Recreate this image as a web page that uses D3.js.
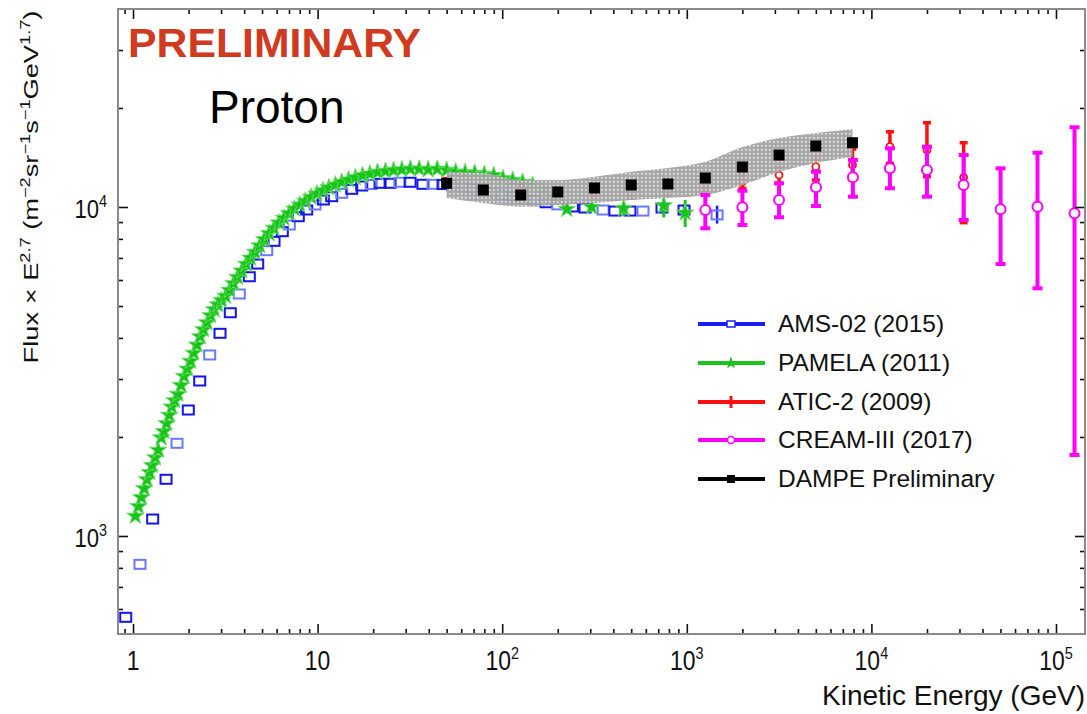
<!DOCTYPE html>
<html>
<head>
<meta charset="utf-8">
<script src="https://cdn.jsdelivr.net/npm/d3@7"></script>
<style>
  html, body { margin: 0; padding: 0; background: #fff; }
  svg { display: block; font-family: "Liberation Sans", Arial, sans-serif; }
</style>
</head>
<body>
<div id="container"></div>
<script>
var amsE = [0.913, 1.091, 1.278, 1.51, 1.731, 1.993, 2.298, 2.603, 2.96, 3.366, 3.765, 4.266, 4.737, 5.30, 5.806,
    6.44, 7.03, 7.86, 8.73, 9.68, 10.74, 11.92, 13.51, 15.30, 17.34, 19.5, 21.8, 24.7, 27.9, 31.7, 37.2, 42.2, 47.8,
    54, 61, 69, 78, 88, 100, 114, 130, 150, 173, 200, 240, 281, 352, 408, 492, 579, 734, 966, 1459],
  amsFlux = [566, 820, 1126, 1487, 1913, 2415, 2959, 3550, 4131, 4771, 5440, 6138, 6709, 7366, 7865,
    8413, 8816, 9343, 9793, 10141, 10503, 10748, 11006, 11318, 11583, 11706, 11805, 11805, 11890, 11890, 11722, 11722, 11700,
    11600, 11500, 11350, 11200, 11050, 10900, 10750, 10600, 10450, 10300, 10150, 10000, 9930, 9790, 9720, 9720, 9720, 9930, 9790, 9460],
  amsErrE = [734, 966, 1459],
  amsErrLo = [9700, 9400, 8900],
  amsErrHi = [10150, 10200, 10100];

var pamelaE = [1.03, 1.07, 1.11, 1.15, 1.19, 1.23, 1.27, 1.32, 1.37, 1.42, 1.47, 1.52, 1.57, 1.62, 1.68, 1.75, 1.82,
    1.89, 1.97, 2.05, 2.13, 2.22, 2.31, 2.41, 2.52, 2.63, 2.75, 2.88, 3.02, 3.17, 3.33, 3.50, 3.68, 3.88, 4.10, 4.33,
    4.58, 4.85, 5.14, 5.46, 5.80, 6.17, 6.57, 7.01, 7.49, 8.01, 8.58, 9.21, 9.90, 10.7, 11.5, 12.5, 13.5, 14.7, 16.0,
    17.5, 19.2, 21.1, 23.3, 25.8, 28.6, 31.8, 35.5, 39.7, 44.5, 50, 56, 63, 71, 80, 90, 101, 114, 129, 146, 166, 190,
    224, 305, 455, 750, 980],
  pamelaFlux = [1150, 1230, 1310, 1395, 1485, 1560, 1640, 1730, 1825, 1990, 2080, 2200, 2330, 2470, 2580, 2700, 2870,
    3060, 3220, 3400, 3600, 3810, 4040, 4240, 4450, 4680, 4880, 5050, 5200, 5360, 5590, 5860, 6120, 6400, 6710, 7000,
    7290, 7630, 7980, 8310, 8620, 8950, 9250, 9560, 9870, 10150, 10430, 10720, 10970, 11220, 11450, 11680, 11900, 12100, 12290,
    12470, 12620, 12760, 12860, 12940, 13000, 13060, 13060, 13000, 13050, 12950, 12800, 12750, 12680, 12580, 12480, 12220, 12080, 11900, 11650, 11300, 10800,
    9850, 10000, 9900, 10100, 9600],
  pamelaErrE = [224, 305, 455, 750, 980],
  pamelaErrLo = [9600, 9700, 9400, 9300, 8700],
  pamelaErrHi = [10050, 10300, 10350, 11000, 10500];

var aticE = [50, 79, 126, 200, 316, 500, 790, 1260, 2000, 3160, 5000, 7900, 12600, 20000, 31600],
  aticFlux = [11910, 11424, 11265, 11108, 11108, 11030, 11265, 11666, 11938, 12511, 13265, 13423, 15250, 14900, 12310],
  aticLo = [11600, 11100, 10950, 10800, 10750, 10650, 10850, 11200, 11400, 11800, 12080, 12250, 13580, 12362, 8963],
  aticHi = [12200, 11750, 11600, 11450, 11450, 11400, 11700, 12150, 12500, 13200, 14190, 15010, 16940, 18040, 15680];

var creamE = [1260, 2000, 3160, 5010, 7940, 12600, 20000, 31600, 50100, 79400, 126000],
  creamFlux = [9793, 9979, 10503, 11480, 12310, 13110, 12956, 11666, 9840, 10021, 9570],
  creamLo = [8616, 8816, 9305, 10070, 10748, 11399, 10748, 9130, 6709, 5660, 1763],
  creamHi = [10877, 11208, 11805, 12803, 13897, 15080, 15250, 14390, 13110, 14620, 17470];

var dampeE = [50, 79, 126, 200, 316, 500, 790, 1260, 2000, 3160, 5000, 7900],
  dampeFlux = [11805, 11265, 10877, 11108, 11424, 11666, 11748, 12246, 13230, 14387, 15323, 15682],
  dampeSysLo = [10652, 10285, 10021, 10141, 10285, 10503, 10652, 10877, 11666, 12776, 13605, 14190],
  dampeSysHi = [12803, 12686, 12080, 12080, 12362, 12803, 13139, 13732, 15219, 16206, 16785, 17262];

var xMajor = [1, 10, 100, 1e3, 1e4, 1e5],
  xMajorBase = ['1', '10', '10', '10', '10', '10'],
  xMajorExp = ['', '', '2', '3', '4', '5'],
  yMajor = [1e3, 1e4],
  yMajorExp = ['3', '4'];

var legendNames = ['AMS-02 (2015)', 'PAMELA (2011)', 'ATIC-2 (2009)', 'CREAM-III (2017)', 'DAMPE Preliminary'],
  legendColors = ['#1e1ef0', '#1cc41c', '#ff1010', '#ff00ff', '#000000'];

var width = 1087, height = 714,
  pLeft = 118, pRight = 1085, pTop = 9, pBottom = 634,
  svg, x, y;

function minorTicks(lo, hi) {
  var out = [], p, k;
  for (p = Math.floor(Math.log10(lo)); p <= Math.ceil(Math.log10(hi)); p += 1) {
    for (k = 2; k <= 9; k += 1) {
      if (k * Math.pow(10, p) > lo && k * Math.pow(10, p) < hi) out.push(k * Math.pow(10, p));
    }
  }
  return out;
}

function zip(a, b) {
  return a.map(function (v, i) { return [v, b[i]]; });
}

svg = d3.select('#container').append('svg')
  .attr('width', width)
  .attr('height', height);

x = d3.scaleLog().domain([0.8292, 143600]).range([pLeft, pRight]);
y = d3.scaleLog().domain([503.6, 39980]).range([pBottom, pTop]);

// band pattern
var pat = svg.append('defs').append('pattern')
  .attr('id', 'dots')
  .attr('width', 4)
  .attr('height', 4)
  .attr('patternUnits', 'userSpaceOnUse');
pat.append('rect').attr('width', 4).attr('height', 4).attr('fill', '#a4a4a4');
pat.append('rect').attr('x', 1).attr('y', 1).attr('width', 1.6).attr('height', 1.6).attr('fill', '#ececec');

var plot = svg.append('g');

function errorBars(g, es, lo, hi, color, w, cap) {
  var bars = g.append('g').selectAll('g').data(es).enter().append('g')
    .attr('stroke', color);
  bars.append('line')
    .attr('x1', function (d) { return x(d); })
    .attr('x2', function (d) { return x(d); })
    .attr('y1', function (d, i) { return y(lo[i]); })
    .attr('y2', function (d, i) { return y(hi[i]); })
    .attr('stroke-width', w);
  if (cap) {
    bars.append('line')
      .attr('x1', function (d) { return x(d) - cap; })
      .attr('x2', function (d) { return x(d) + cap; })
      .attr('y1', function (d, i) { return y(lo[i]); })
      .attr('y2', function (d, i) { return y(lo[i]); })
      .attr('stroke-width', w);
    bars.append('line')
      .attr('x1', function (d) { return x(d) - cap; })
      .attr('x2', function (d) { return x(d) + cap; })
      .attr('y1', function (d, i) { return y(hi[i]); })
      .attr('y2', function (d, i) { return y(hi[i]); })
      .attr('stroke-width', w);
  }
}

// AMS-02
errorBars(plot, amsErrE, amsErrLo, amsErrHi, '#1e1ef0', 2.5, 0);
plot.append('g').selectAll('rect')
  .data(zip(amsE, amsFlux))
  .enter()
  .append('rect')
  .attr('x', function (d) { return x(d[0]) - 5.5; })
  .attr('y', function (d) { return y(d[1]) - 4.5; })
  .attr('width', 11)
  .attr('height', 9)
  .attr('fill', 'none')
  .attr('stroke', function (d, i) { return i % 3 === 1 ? '#6a78ff' : '#1414f0'; })
  .attr('stroke-width', 2);

// PAMELA
errorBars(plot, pamelaErrE, pamelaErrLo, pamelaErrHi, '#1cc41c', 3, 0);
var star = d3.symbol().type(d3.symbolStar).size(95);
plot.append('g').selectAll('path')
  .data(zip(pamelaE, pamelaFlux))
  .enter()
  .append('path')
  .attr('d', star)
  .attr('transform', function (d) { return 'translate(' + x(d[0]) + ',' + y(d[1]) + ')'; })
  .attr('fill', '#18c418')
  .attr('stroke', '#6fe06f')
  .attr('stroke-width', 0.8);

// ATIC-2
errorBars(plot, aticE, aticLo, aticHi, '#ff1010', 3.5, 4);
plot.append('g').selectAll('circle')
  .data(zip(aticE, aticFlux))
  .enter()
  .append('circle')
  .attr('cx', function (d) { return x(d[0]); })
  .attr('cy', function (d) { return y(d[1]); })
  .attr('r', 3.5)
  .attr('fill', '#fff')
  .attr('stroke', '#ff1010')
  .attr('stroke-width', 1.8);

// DAMPE systematic band
var band = d3.area()
  .curve(d3.curveMonotoneX)
  .x(function (d) { return x(d[0]); })
  .y0(function (d) { return y(d[1]); })
  .y1(function (d) { return y(d[2]); });
plot.append('path')
  .datum(dampeE.map(function (e, i) { return [e, dampeSysLo[i], dampeSysHi[i]]; }))
  .attr('d', band)
  .attr('fill', 'url(#dots)')
  .attr('opacity', 0.95);

// CREAM-III
errorBars(plot, creamE, creamLo, creamHi, '#ff00ff', 4, 5);
plot.append('g').selectAll('circle')
  .data(zip(creamE, creamFlux))
  .enter()
  .append('circle')
  .attr('cx', function (d) { return x(d[0]); })
  .attr('cy', function (d) { return y(d[1]); })
  .attr('r', 5)
  .attr('fill', '#fff')
  .attr('stroke', '#ff00ff')
  .attr('stroke-width', 2);

// DAMPE points
plot.append('g').selectAll('rect')
  .data(zip(dampeE, dampeFlux))
  .enter()
  .append('rect')
  .attr('x', function (d) { return x(d[0]) - 5.5; })
  .attr('y', function (d) { return y(d[1]) - 5.5; })
  .attr('width', 11)
  .attr('height', 11)
  .attr('fill', '#000');

// frame + ticks on all four sides, pointing inward
function tickAxis(axisFn, scale, vals, size, tr) {
  var g = svg.append('g')
    .attr('transform', tr)
    .call(axisFn(scale).tickValues(vals).tickSize(-size).tickFormat(''));
  g.select('.domain').remove();
  g.selectAll('.tick line').attr('stroke', '#111').attr('stroke-width', 1.6);
}
var xMinor = minorTicks(0.83, 143000), yMinor = minorTicks(504, 39900);
tickAxis(d3.axisBottom, x, xMajor, 10, 'translate(0,' + pBottom + ')');
tickAxis(d3.axisBottom, x, xMinor, 5, 'translate(0,' + pBottom + ')');
tickAxis(d3.axisTop, x, xMajor, 10, 'translate(0,' + pTop + ')');
tickAxis(d3.axisTop, x, xMinor, 5, 'translate(0,' + pTop + ')');
tickAxis(d3.axisLeft, y, yMajor, 10, 'translate(' + pLeft + ',0)');
tickAxis(d3.axisLeft, y, yMinor, 5, 'translate(' + pLeft + ',0)');
tickAxis(d3.axisRight, y, yMajor, 10, 'translate(' + pRight + ',0)');
tickAxis(d3.axisRight, y, yMinor, 5, 'translate(' + pRight + ',0)');

svg.append('rect')
  .attr('x', pLeft)
  .attr('y', pTop)
  .attr('width', pRight - pLeft)
  .attr('height', pBottom - pTop)
  .attr('fill', 'none')
  .attr('stroke', '#8a8a8a')
  .attr('stroke-width', 2);

// tick labels
var xl = svg.append('g').selectAll('text')
  .data(xMajor)
  .enter()
  .append('text')
  .attr('text-anchor', 'middle')
  .attr('transform', function (d) { return 'translate(' + x(d) + ',670) scale(0.85,1)'; })
  .attr('font-size', 27)
  .attr('fill', '#111');
xl.append('tspan').text(function (d, i) { return xMajorBase[i]; });
xl.append('tspan').attr('dy', -11).attr('font-size', 17).text(function (d, i) { return xMajorExp[i]; });

var yl = svg.append('g').selectAll('text')
  .data(yMajor)
  .enter()
  .append('text')
  .attr('text-anchor', 'end')
  .attr('transform', function (d) { return 'translate(107,' + (y(d) + 11) + ') scale(0.85,1)'; })
  .attr('font-size', 26)
  .attr('fill', '#111');
yl.append('tspan').text('10');
yl.append('tspan').attr('dy', -11).attr('font-size', 17).text(function (d, i) { return yMajorExp[i]; });

// axis titles
svg.append('text')
  .attr('x', 1085)
  .attr('y', 705)
  .attr('text-anchor', 'end')
  .attr('font-size', 28)
  .attr('fill', '#111')
  .text('Kinetic Energy (GeV)');

var yt = svg.append('text')
  .attr('text-anchor', 'middle')
  .attr('font-size', 21)
  .attr('fill', '#111');
yt.append('tspan').text('Flux \u00d7 E');
yt.append('tspan').attr('dy', -8).attr('font-size', 14).text('2.7');
yt.append('tspan').attr('dy', 8).text(' (m');
yt.append('tspan').attr('dy', -8).attr('font-size', 14).text('\u22122');
yt.append('tspan').attr('dy', 8).text('sr');
yt.append('tspan').attr('dy', -8).attr('font-size', 14).text('\u22121');
yt.append('tspan').attr('dy', 8).text('s');
yt.append('tspan').attr('dy', -8).attr('font-size', 14).text('\u22121');
yt.append('tspan').attr('dy', 8).text('GeV');
yt.append('tspan').attr('dy', -8).attr('font-size', 14).text('1.7');
yt.append('tspan').attr('dy', 8).text(')');
var ytLen = yt.node().getComputedTextLength();
yt.attr('transform', 'translate(38,187) rotate(-90) scale(' + (353 / ytLen) + ',1)');

// annotations
svg.append('text')
  .attr('x', 128)
  .attr('y', 57)
  .attr('font-size', 40)
  .attr('font-weight', 'bold')
  .attr('fill', '#cf3a20')
  .attr('textLength', 293)
  .attr('lengthAdjust', 'spacingAndGlyphs')
  .text('PRELIMINARY');

svg.append('text')
  .attr('x', 209)
  .attr('y', 123)
  .attr('font-size', 46)
  .attr('fill', '#000')
  .text('Proton');

// legend
var rowY = [324, 363, 402, 440, 479];
var leg = svg.append('g').selectAll('g')
  .data(legendNames)
  .enter()
  .append('g')
  .attr('transform', function (d, i) { return 'translate(0,' + rowY[i] + ')'; });
leg.append('line')
  .attr('x1', 698)
  .attr('x2', 765)
  .attr('stroke', function (d, i) { return legendColors[i]; })
  .attr('stroke-width', 4);
leg.append('text')
  .attr('x', 778)
  .attr('y', 8)
  .attr('font-size', 24.5)
  .attr('fill', '#111')
  .text(function (d) { return d; });
leg.filter(function (d, i) { return i === 0; }).append('rect')
  .attr('x', 727).attr('y', -3).attr('width', 8).attr('height', 6)
  .attr('fill', '#fff').attr('stroke', legendColors[0]).attr('stroke-width', 1.5);
leg.filter(function (d, i) { return i === 1; }).append('path')
  .attr('d', d3.symbol().type(d3.symbolStar).size(50))
  .attr('transform', 'translate(731,0)')
  .attr('fill', legendColors[1]);
leg.filter(function (d, i) { return i === 2; }).append('line')
  .attr('x1', 731).attr('x2', 731).attr('y1', -6).attr('y2', 6)
  .attr('stroke', legendColors[2]).attr('stroke-width', 3);
leg.filter(function (d, i) { return i === 3; }).append('circle')
  .attr('cx', 731).attr('r', 3.5)
  .attr('fill', '#fff').attr('stroke', legendColors[3]).attr('stroke-width', 1.5);
leg.filter(function (d, i) { return i === 4; }).append('rect')
  .attr('x', 727).attr('y', -4).attr('width', 8).attr('height', 8)
  .attr('fill', '#000');
</script>
</body>
</html>
